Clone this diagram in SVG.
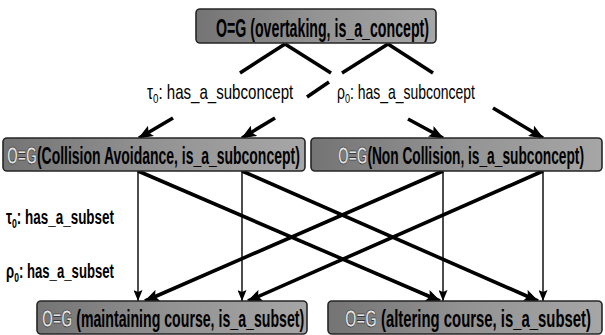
<svg xmlns="http://www.w3.org/2000/svg" width="605" height="335" viewBox="0 0 605 335">
  <defs>
    <linearGradient id="boxFill" x1="0" y1="0" x2="1" y2="0">
      <stop offset="0" stop-color="#747474"/>
      <stop offset="0.5" stop-color="#939393"/>
      <stop offset="1" stop-color="#a6a6a6"/>
    </linearGradient>
    <marker id="headBold" markerUnits="userSpaceOnUse" markerWidth="15" markerHeight="12" refX="14" refY="6" orient="auto">
      <path d="M0,0 L15,6 L0,12 L3,6 z" fill="#000"/>
    </marker>
    <marker id="headThin" markerUnits="userSpaceOnUse" markerWidth="11" markerHeight="9" refX="11" refY="4.5" orient="auto">
      <path d="M0,0 L11,4.5 L0,9 L2,4.5 z" fill="#000"/>
    </marker>
  </defs>
  <style>
    .box rect { fill: url(#boxFill); stroke: #262626; stroke-width: 1.6; }
    .box text { font-family: "Liberation Sans", Arial, sans-serif; font-weight: bold; fill: #000; }
    .og { fill: #e4e4e4; stroke: #111; stroke-width: 0.6; }
    .bold { stroke: #000; stroke-width: 3.6; fill: none; }
    .thin { stroke: #000; stroke-width: 1.4; fill: none; }
    .lbl { font-family: "Liberation Sans", Arial, sans-serif; font-size: 20px; fill: #000; }
    .lbl-b { font-family: "Liberation Sans", Arial, sans-serif; font-size: 20px; font-weight: bold; fill: #000; }
  </style>

  <rect width="605" height="335" fill="#fff"/>

  <!-- connectors -->
  <g id="connectors">
    <!-- concept to subconcepts (broken where the labels sit) -->
    <path class="bold" d="M285,44 L240,73"/>
    <path class="bold" d="M173,118 L139,138" marker-end="url(#headBold)"/>
    <path class="bold" d="M285,44 L331,73"/>
    <path class="bold" d="M408,119 L443,138" marker-end="url(#headBold)"/>
    <path class="bold" d="M388,44 L342,73"/>
    <path class="bold" d="M329,82 L307,97"/>
    <path class="bold" d="M275,118 L242,138" marker-end="url(#headBold)"/>
    <path class="bold" d="M388,44 L433,73"/>
    <path class="bold" d="M493,108 L543,138" marker-end="url(#headBold)"/>

    <!-- subconcepts to subsets: straight drops -->
    <path class="thin" d="M138,171 L138,301" marker-end="url(#headThin)"/>
    <path class="thin" d="M242,171 L242,301" marker-end="url(#headThin)"/>
    <path class="thin" d="M443,171 L443,301" marker-end="url(#headThin)"/>
    <path class="thin" d="M543,171 L543,301" marker-end="url(#headThin)"/>

    <!-- subconcepts to subsets: crossing diagonals -->
    <path class="bold" d="M138,171 L440,301" marker-end="url(#headBold)"/>
    <path class="bold" d="M242,171 L538,301" marker-end="url(#headBold)"/>
    <path class="bold" d="M443,171 L145,301" marker-end="url(#headBold)"/>
    <path class="bold" d="M543,171 L248,301" marker-end="url(#headBold)"/>
  </g>

  <!-- edge labels (condensed by a horizontal scale) -->
  <text class="lbl" transform="translate(147,99) scale(0.75,1)" textLength="195" lengthAdjust="spacingAndGlyphs">τ<tspan font-size="13" dy="4">0</tspan><tspan dy="-4">: has_a_subconcept</tspan></text>
  <text class="lbl" transform="translate(337,99) scale(0.75,1)" textLength="184" lengthAdjust="spacingAndGlyphs">ρ<tspan font-size="13" dy="4">0</tspan><tspan dy="-4">: has_a_subconcept</tspan></text>
  <text class="lbl-b" transform="translate(6,224) scale(0.6,1)" textLength="180" lengthAdjust="spacingAndGlyphs">τ<tspan font-size="13" dy="4">0</tspan><tspan dy="-4">: has_a_subset</tspan></text>
  <text class="lbl-b" transform="translate(6,278) scale(0.6,1)" textLength="180" lengthAdjust="spacingAndGlyphs">ρ<tspan font-size="13" dy="4">0</tspan><tspan dy="-4">: has_a_subset</tspan></text>

  <!-- nodes -->
  <g id="overtaking" class="box">
    <rect x="196" y="9" width="240" height="34" rx="4"/>
    <text transform="translate(216,37) scale(0.6,1)" font-size="25" textLength="355" lengthAdjust="spacingAndGlyphs">O=G (overtaking, is_a_concept)</text>
  </g>
  <g id="collision-avoidance" class="box">
    <rect x="3" y="138" width="302" height="33" rx="4"/>
    <text transform="translate(7,164) scale(0.6,1)" font-size="23" textLength="488" lengthAdjust="spacingAndGlyphs"><tspan class="og">O=G</tspan>(Collision Avoidance, is_a_subconcept)</text>
  </g>
  <g id="non-collision" class="box">
    <rect x="311" y="138" width="291" height="33" rx="4"/>
    <text transform="translate(338,164) scale(0.6,1)" font-size="23" textLength="410" lengthAdjust="spacingAndGlyphs"><tspan class="og">O=G</tspan>(Non Collision, is_a_subconcept)</text>
  </g>
  <g id="maintaining-course" class="box">
    <rect x="37" y="301" width="270" height="33" rx="4"/>
    <text transform="translate(42,327) scale(0.6,1)" font-size="23" textLength="437" lengthAdjust="spacingAndGlyphs"><tspan class="og">O=G</tspan> (maintaining course, is_a_subset)</text>
  </g>
  <g id="altering-course" class="box">
    <rect x="328" y="301" width="274" height="33" rx="4"/>
    <text transform="translate(345,327) scale(0.6,1)" font-size="23" textLength="410" lengthAdjust="spacingAndGlyphs"><tspan class="og">O=G</tspan> (altering course, is_a_subset)</text>
  </g>
</svg>
